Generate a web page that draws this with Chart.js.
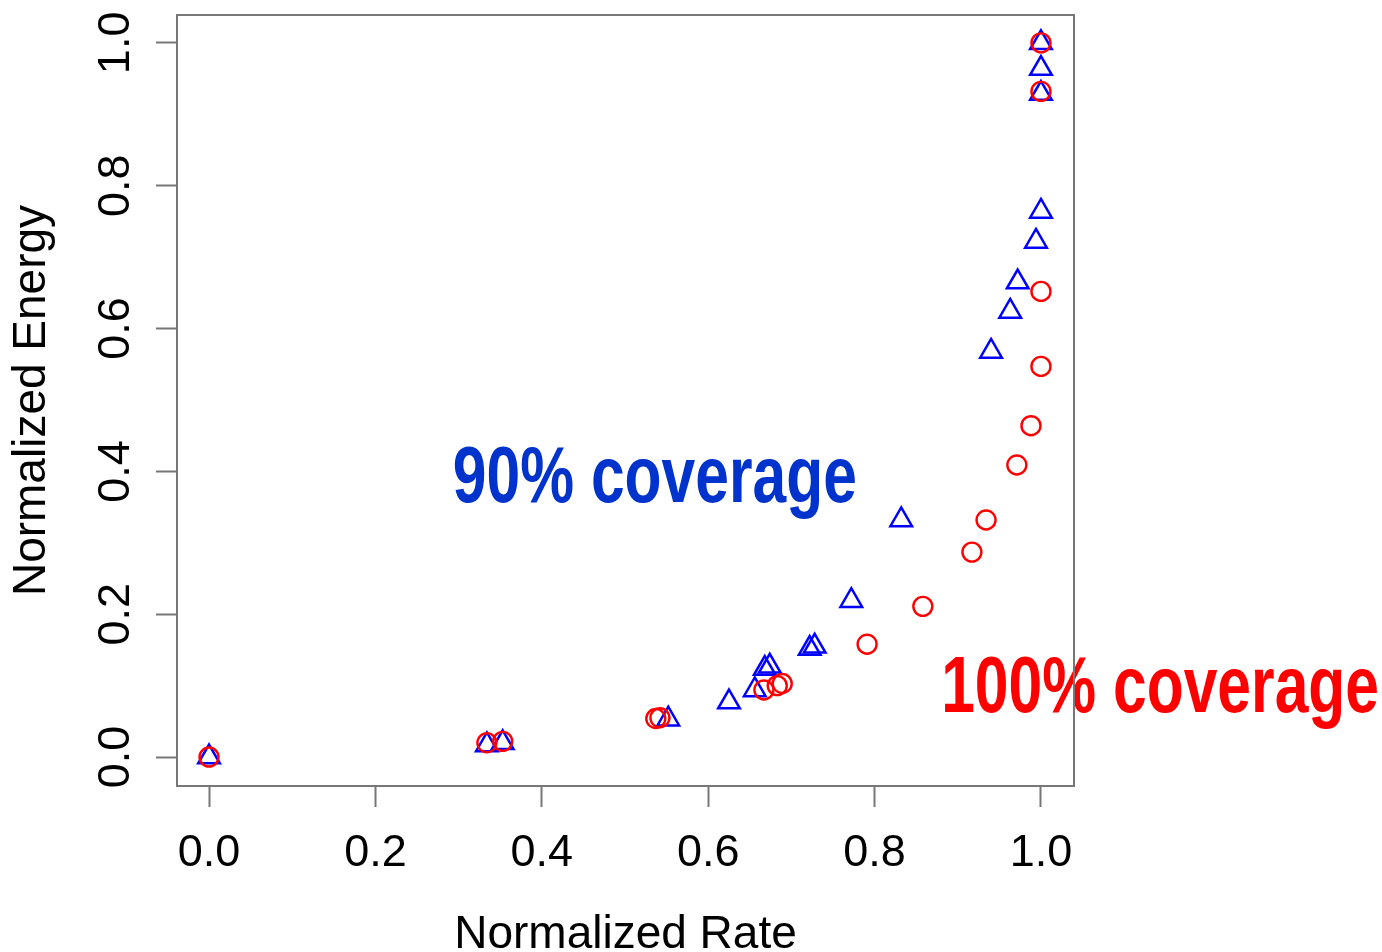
<!DOCTYPE html>
<html>
<head>
<meta charset="utf-8">
<script src="https://cdn.jsdelivr.net/npm/chart.js@4/dist/chart.umd.min.js"></script>
<style>
  body { margin: 0; background: #fff; }
  canvas { display: block; }
</style>
</head>
<body>
<canvas id="c" width="1382" height="952"></canvas>
<script>
// data
var rate100   = [0, 0.334, 0.353, 0.537, 0.542, 0.667, 0.683, 0.689, 0.791, 0.858, 0.917, 0.934, 0.971, 0.988, 1.0, 1.0, 1.0, 1.0];
var energy100 = [0, 0.020, 0.022, 0.054, 0.055, 0.094, 0.100, 0.103, 0.158, 0.211, 0.287, 0.332, 0.409, 0.464, 0.547, 0.652, 0.932, 1.0];

var rate90   = [0, 0.334, 0.353, 0.552, 0.625, 0.656, 0.668, 0.674, 0.722, 0.728, 0.772, 0.832, 0.940, 0.963, 0.972, 0.994, 1.0, 1.0, 1.0, 1.0];
var energy90 = [0, 0.017, 0.020, 0.053, 0.077, 0.094, 0.124, 0.127, 0.152, 0.155, 0.219, 0.332, 0.568, 0.624, 0.665, 0.722, 0.764, 0.929, 0.964, 1.0];

var rateTicks   = [0, 0.2, 0.4, 0.6, 0.8, 1.0];
var energyTicks = [0, 0.2, 0.4, 0.6, 0.8, 1.0];

// text labels placed in data coordinates
var notes = [
    { text: "90% coverage",  x: 0.293, y: 0.3575, color: "#0033cc" },
    { text: "100% coverage", x: 0.880, y: 0.063,  color: "#ff0000" }
];

var FONT = "'Liberation Sans', Arial, Helvetica, sans-serif";
var AXIS_GREY = "#777777";

function pairs(xs, ys){
    var out = [];
    for(var i = 0; i < xs.length; i++){
        out.push({x: xs[i], y: ys[i]});
    }
    return out;
}

// y tick labels turned on their side, like R draws them
var yLabels = {
    id: 'yLabels',
    afterDraw: function(chart){
        var ctx = chart.ctx;
        var ys = chart.scales.y;
        ctx.save();
        ctx.font = "45px " + FONT;
        ctx.fillStyle = "#000";
        ctx.textAlign = "center";
        ctx.textBaseline = "middle";
        ys.ticks.forEach(function(t){
            var py = ys.getPixelForValue(t.value);
            ctx.save();
            ctx.translate(117, py);
            ctx.rotate(-Math.PI / 2);
            ctx.fillText(t.value.toFixed(1), 0, 0);
            ctx.restore();
        });
        ctx.restore();
    }
};

var noteText = {
    id: 'noteText',
    afterDraw: function(chart){
        var ctx = chart.ctx;
        ctx.save();
        ctx.font = "bold 79px " + FONT;
        ctx.textAlign = "left";
        ctx.textBaseline = "alphabetic";
        notes.forEach(function(n){
            var px = chart.scales.x.getPixelForValue(n.x);
            var py = chart.scales.y.getPixelForValue(n.y);
            ctx.save();
            ctx.translate(px, py);
            ctx.scale(0.767, 1);
            ctx.fillStyle = n.color;
            ctx.fillText(n.text, 0, 0);
            ctx.restore();
        });
        ctx.restore();
    }
};

// box round the plot region
var frame = {
    id: 'frame',
    afterDraw: function(chart){
        var a = chart.chartArea;
        var ctx = chart.ctx;
        ctx.save();
        ctx.strokeStyle = AXIS_GREY;
        ctx.lineWidth = 2;
        ctx.strokeRect(a.left, a.top, a.right - a.left, a.bottom - a.top);
        ctx.restore();
    }
};

var ctx = document.getElementById("c");
var chart = new Chart(ctx, {
    type: 'scatter',
    data: {
        datasets: [
            {
                label: "100% coverage",
                data: pairs(rate100, energy100),
                pointStyle: 'circle',
                pointRadius: 9.5,
                pointBorderWidth: 2.4,
                borderColor: "#ff0000",
                backgroundColor: "rgba(0,0,0,0)"
            },
            {
                label: "90% coverage",
                data: pairs(rate90, energy90),
                pointStyle: 'triangle',
                pointRadius: 12.5,
                pointBorderWidth: 2.5,
                borderColor: "#0000ff",
                backgroundColor: "rgba(0,0,0,0)"
            }
        ]
    },
    options: {
        responsive: false,
        animation: false,
        devicePixelRatio: 1,
        layout: { padding: { top: 13, right: 308, left: 0, bottom: 0 } },
        plugins: {
            legend: { display: false },
            tooltip: { enabled: false }
        },
        scales: {
            x: {
                type: 'linear',
                min: -0.0385,
                max: 1.0397,
                afterBuildTicks: function(s){ s.ticks = rateTicks.map(function(v){ return {value: v}; }); },
                afterFit: function(s){ s.height = 166; },
                border: { display: false },
                grid: { drawOnChartArea: false, drawTicks: true, tickLength: 21, tickColor: AXIS_GREY, tickWidth: 2 },
                ticks: {
                    color: "#000",
                    font: { family: FONT, size: 45 },
                    padding: 20,
                    maxRotation: 0,
                    callback: function(v){ return Number(v).toFixed(1); }
                },
                title: {
                    display: true,
                    text: "Normalized Rate",
                    color: "#000",
                    font: { family: FONT, size: 46, lineHeight: 0.73 },
                    padding: { top: 0, bottom: 0 }
                }
            },
            y: {
                type: 'linear',
                min: -0.0405,
                max: 1.039,
                afterBuildTicks: function(s){ s.ticks = energyTicks.map(function(v){ return {value: v}; }); },
                afterFit: function(s){ s.width = 177; },
                border: { display: false },
                grid: { drawOnChartArea: false, drawTicks: true, tickLength: 21, tickColor: AXIS_GREY, tickWidth: 2 },
                ticks: { display: false },
                title: {
                    display: true,
                    text: "Normalized Energy",
                    color: "#000",
                    font: { family: FONT, size: 46, lineHeight: 0.9 },
                    padding: { top: 12, bottom: 0 }
                }
            }
        }
    },
    plugins: [yLabels, noteText, frame]
});
</script>
</body>
</html>
